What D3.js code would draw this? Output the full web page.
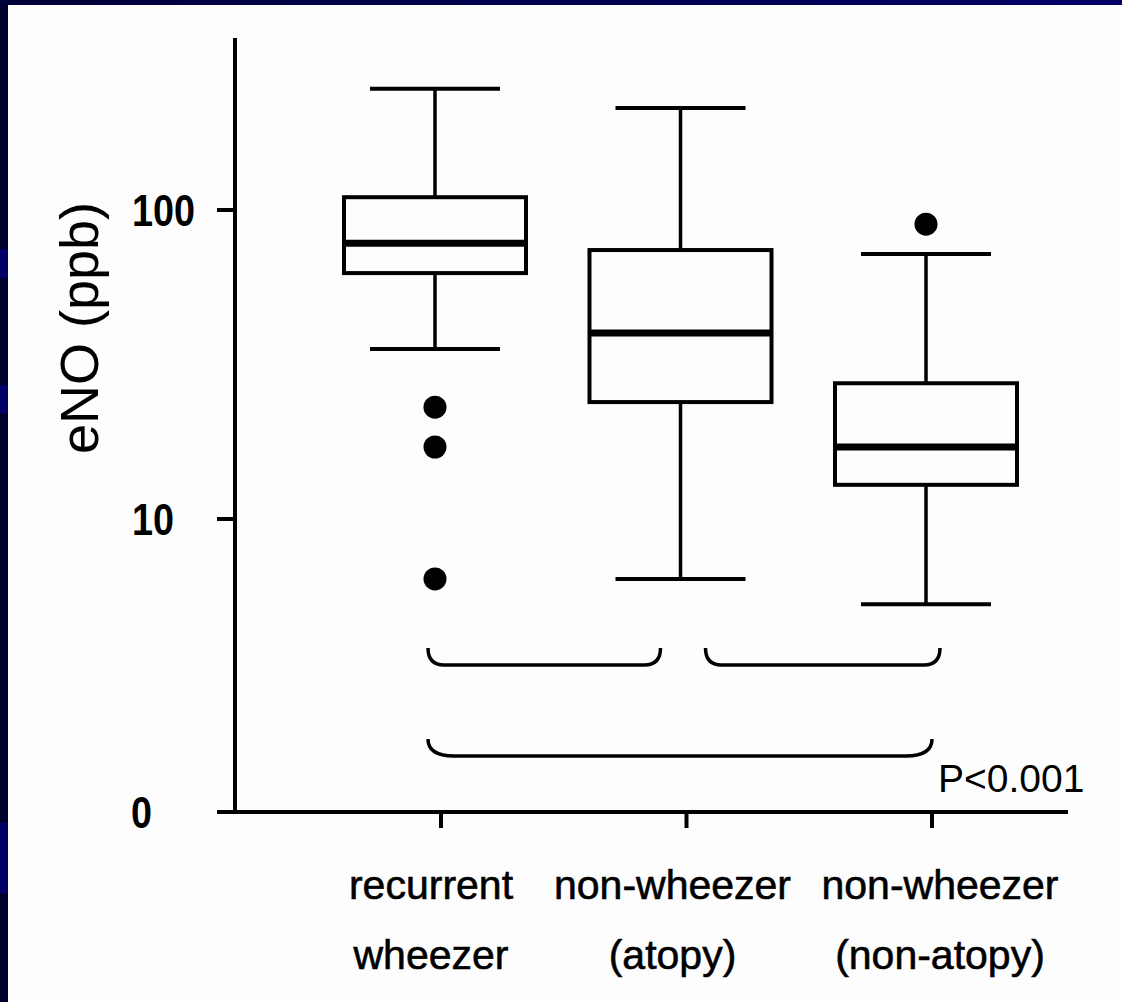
<!DOCTYPE html>
<html>
<head>
<meta charset="utf-8">
<script src="https://cdn.jsdelivr.net/npm/d3@7"></script>
<style>
  html, body { margin: 0; padding: 0; background: #00002e; }
  svg { display: block; }
</style>
</head>
<body>
<script>
// groups (two-line labels)
const groupLine1 = ["recurrent", "non-wheezer", "non-wheezer"];
const groupLine2 = ["wheezer", "(atopy)", "(non-atopy)"];
// box plot stats, eNO in ppb
const whiskerHigh = [247, 214, 72];
const q3 = [110, 74.2, 27.5];
const medians = [78, 40, 17.1];
const q1 = [62.5, 23.9, 12.9];
const whiskerLow = [35.5, 6.4, 5.3];
const outliers = [[23, 17.1, 6.4], [], [90]];
const yTicks = [100, 10];
const yTop = 360;
// comparison braces: [from group, to group]
const braces = [[0, 1], [1, 2], [0, 2]];
const pText = "P<0.001";

const W = 1122, H = 1002;
const svg = d3.select("body").append("svg")
  .attr("width", W).attr("height", H);

// slide background: dark left strip, navy top band, white page
const grad = svg.append("defs").append("linearGradient")
  .attr("id", "topband").attr("x1", 0).attr("x2", 1);
grad.append("stop").attr("offset", 0).attr("stop-color", "#00003a");
grad.append("stop").attr("offset", 1).attr("stop-color", "#000066");
svg.append("rect").attr("width", W).attr("height", H).attr("fill", "#00002e");
svg.append("rect").attr("width", W).attr("height", 5).attr("fill", "url(#topband)");
[[249, 29], [385, 28], [823, 70]].forEach(([yy, hh]) => {
  svg.append("rect").attr("x", 0).attr("y", yy).attr("width", 8).attr("height", hh)
    .attr("fill", "#000066");
});
svg.append("rect").attr("x", 8).attr("y", 5).attr("width", W - 8).attr("height", H - 5)
  .attr("fill", "#fdfdfd");

const y = d3.scaleLog().domain([1, 1000]).range([828, -99]);
const x = d3.scalePoint().domain(d3.range(3)).range([435, 926]);
const baseY = 812;
const axisX = 235;
// label nudges, as set in the original figure
const labelShift = [-4, -8, 14];

const g = svg.append("g")
  .attr("stroke", "#000").attr("fill", "none").attr("stroke-linecap", "butt");

// axes
g.append("line").attr("x1", axisX).attr("x2", axisX)
  .attr("y1", y(yTop)).attr("y2", baseY).attr("stroke-width", 4);
g.append("line").attr("x1", 217).attr("x2", 1068)
  .attr("y1", baseY).attr("y2", baseY).attr("stroke-width", 4);
g.selectAll(".ytick").data(yTicks).join("line")
  .attr("x1", 217).attr("x2", axisX)
  .attr("y1", d => y(d)).attr("y2", d => y(d)).attr("stroke-width", 4);
g.selectAll(".xtick").data(x.domain()).join("line")
  .attr("x1", d => x(d) + 6).attr("x2", d => x(d) + 6)
  .attr("y1", baseY).attr("y2", baseY + 16).attr("stroke-width", 4);

const txt = svg.append("g").attr("font-family", "'Liberation Sans', Arial, sans-serif")
  .attr("fill", "#000");

txt.selectAll(".ylab").data(yTicks).join("text")
  .attr("x", 132).attr("y", d => y(d) + 16)
  .attr("font-size", 45).attr("font-weight", "bold")
  .attr("textLength", d => String(d).length * 21).attr("lengthAdjust", "spacingAndGlyphs")
  .text(d => d);
txt.append("text").attr("x", 131).attr("y", baseY + 16)
  .attr("font-size", 45).attr("font-weight", "bold")
  .attr("textLength", 21).attr("lengthAdjust", "spacingAndGlyphs")
  .text("0");

txt.append("text")
  .attr("transform", `translate(98, ${328}) rotate(-90)`)
  .attr("text-anchor", "middle").attr("font-size", 54)
  .text("eNO (ppb)");

txt.selectAll(".xl1").data(groupLine1).join("text")
  .attr("x", (d, i) => x(i) + labelShift[i]).attr("y", 899)
  .attr("text-anchor", "middle").attr("font-size", 41)
  .attr("stroke", "#000").attr("stroke-width", 0.6)
  .text(d => d);
txt.selectAll(".xl2").data(groupLine2).join("text")
  .attr("x", (d, i) => x(i) + labelShift[i]).attr("y", 969)
  .attr("text-anchor", "middle").attr("font-size", 41)
  .attr("stroke", "#000").attr("stroke-width", 0.6)
  .text(d => d);

// boxes
const boxW = 182, capW = 130;
const boxes = g.selectAll(".box").data(d3.range(3)).join("g");
boxes.append("line")
  .attr("x1", i => x(i)).attr("x2", i => x(i))
  .attr("y1", i => y(whiskerHigh[i])).attr("y2", i => y(q3[i]))
  .attr("stroke-width", 3.5);
boxes.append("line")
  .attr("x1", i => x(i)).attr("x2", i => x(i))
  .attr("y1", i => y(q1[i])).attr("y2", i => y(whiskerLow[i]))
  .attr("stroke-width", 3.5);
boxes.append("line")
  .attr("x1", i => x(i) - capW / 2).attr("x2", i => x(i) + capW / 2)
  .attr("y1", i => y(whiskerHigh[i])).attr("y2", i => y(whiskerHigh[i]))
  .attr("stroke-width", 4);
boxes.append("line")
  .attr("x1", i => x(i) - capW / 2).attr("x2", i => x(i) + capW / 2)
  .attr("y1", i => y(whiskerLow[i])).attr("y2", i => y(whiskerLow[i]))
  .attr("stroke-width", 4);
boxes.append("rect")
  .attr("x", i => x(i) - boxW / 2).attr("width", boxW)
  .attr("y", i => y(q3[i])).attr("height", i => y(q1[i]) - y(q3[i]))
  .attr("fill", "#fdfdfd").attr("stroke-width", 4);
boxes.append("line")
  .attr("x1", i => x(i) - boxW / 2).attr("x2", i => x(i) + boxW / 2)
  .attr("y1", i => y(medians[i])).attr("y2", i => y(medians[i]))
  .attr("stroke-width", 7);

const pts = outliers.flatMap((arr, i) => arr.map(v => ({ i, v })));
svg.selectAll(".out").data(pts).join("circle")
  .attr("cx", d => x(d.i)).attr("cy", d => y(d.v)).attr("r", 11.5)
  .attr("fill", "#000");

// comparison braces
const braceY = [665, 665, 756];
const braceR = [16, 16, 26];
const braceL = [-7, 25, -7];
const braceRt = [-20, 14, 6];
braces.forEach(([a, b], k) => {
  const x0 = x(a) + braceL[k], x1 = x(b) + braceRt[k];
  const yh = braceY[k], yt = yh - 17, r = braceR[k];
  const p = d3.path();
  p.moveTo(x0, yt);
  p.quadraticCurveTo(x0, yh, x0 + r, yh);
  p.lineTo(x1 - r, yh);
  p.quadraticCurveTo(x1, yh, x1, yt);
  g.append("path").attr("d", p.toString()).attr("stroke-width", 3.5);
});

txt.append("text").attr("x", 938).attr("y", 792)
  .attr("font-size", 39).text(pText);
</script>
</body>
</html>
